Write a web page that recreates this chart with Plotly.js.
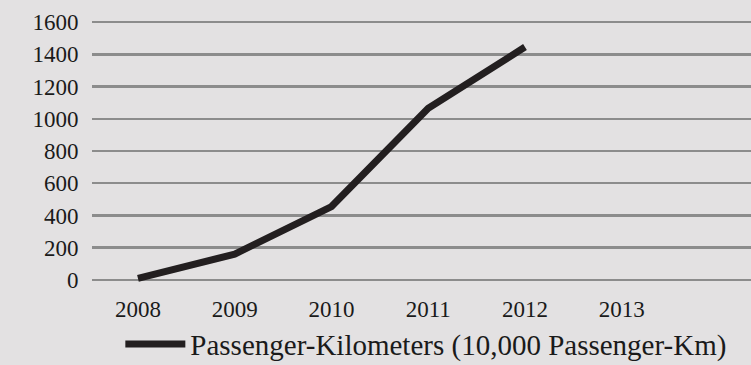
<!DOCTYPE html>
<html>
<head>
<meta charset="utf-8">
<script src="https://cdn.plot.ly/plotly-3.0.1.min.js"></script>
<style>
  html, body { margin: 0; padding: 0; background: #e3e1e2; }
  #chart { width: 751px; height: 365px; }
</style>
</head>
<body>
<div id="chart"></div>
<script>
const years = ["2008", "2009", "2010", "2011", "2012", "2013"];
const dataYears = ["2008", "2009", "2010", "2011", "2012"];
const passengerKm = [10, 160, 455, 1065, 1445];
const seriesName = "Passenger-Kilometers (10,000 Passenger-Km)";
const yTicks = [0, 200, 400, 600, 800, 1000, 1200, 1400, 1600];

const trace = {
  type: "scatter",
  mode: "lines",
  x: dataYears,
  y: passengerKm,
  name: seriesName,
  line: { color: "#231f20", width: 7 },
  showlegend: true
};

const layout = {
  width: 751,
  height: 365,
  paper_bgcolor: "#e3e1e2",
  plot_bgcolor: "#e3e1e2",
  margin: { l: 92, r: 0, t: 6, b: 69 },
  font: { family: "Liberation Serif, serif", color: "#1a1a1a", size: 22 },
  xaxis: {
    type: "category",
    categoryorder: "array",
    categoryarray: years,
    tickvals: years,
    ticktext: years,
    range: [-0.475, 6.336],
    showgrid: false,
    zeroline: false,
    showline: false,
    ticks: "",
    ticklabelstandoff: -3,
    tickfont: { size: 23 },
    automargin: false,
    fixedrange: true
  },
  yaxis: {
    range: [-100, 1700],
    tickvals: yTicks,
    ticktext: yTicks.map(String),
    showgrid: true,
    gridcolor: "#8c8c8c",
    gridwidth: 2.5,
    zeroline: false,
    showline: false,
    ticks: "outside",
    ticklen: 8,
    tickcolor: "rgba(0,0,0,0)",
    tickfont: { size: 23 },
    automargin: false,
    fixedrange: true
  },
  showlegend: true,
  legend: {
    orientation: "h",
    x: 0.043,
    xanchor: "left",
    yref: "container",
    y: 0.057,
    yanchor: "middle",
    bgcolor: "rgba(0,0,0,0)",
    font: { size: 29 },
    itemwidth: 60
  }
};

Plotly.newPlot("chart", [trace], layout, { displayModeBar: false, staticPlot: true });
</script>
</body>
</html>
